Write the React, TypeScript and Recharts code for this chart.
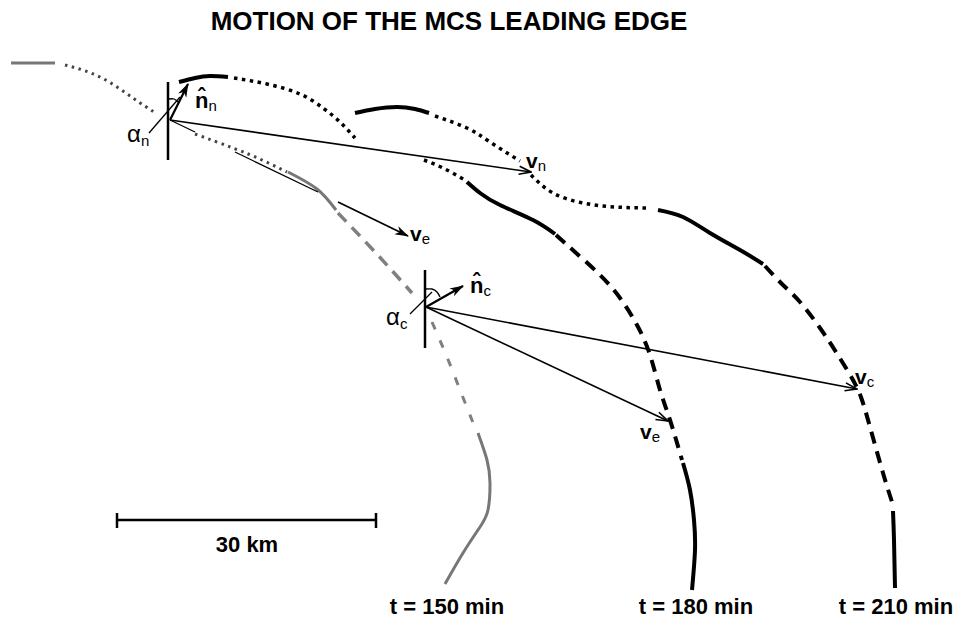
import React from 'react';
import { ComposedChart, Line, Scatter, XAxis, YAxis } from 'recharts';

type P = [number, number];

// ---- t = 150 min front (grey) ----
const f150SolidA: P[] = [[11, 63], [55, 63]];
const f150DotA: P[] = [[65, 65], [100, 77], [133, 98], [154, 112]];
const f150DotB: P[] = [[195, 134], [233, 148], [262, 160], [287, 172]];
const f150SolidB: P[] = [[288, 172], [317, 189], [336, 210]];
const f150DashA: P[] = [[338, 213], [375, 252], [412, 293]];
const f150DashB: P[] = [[432, 322], [447, 357], [462, 395], [476, 430]];
const f150SolidC: P[] = [[478, 433], [487, 460], [490, 483], [488, 510], [480, 527], [463, 553], [445, 584]];

// ---- t = 180 min front ----
const f180SolidA: P[] = [[179, 82], [195, 78], [210, 76], [228, 77]];
const f180DotA: P[] = [[234, 78], [267, 84], [300, 94], [323, 108], [340, 122], [355, 138]];
const f180DotB: P[] = [[424, 160], [443, 168], [465, 180]];
const f180SolidB: P[] = [[467, 182], [480, 193], [500, 205], [533, 220], [555, 234]];
const f180Dash: P[] = [[556, 235], [575, 252], [600, 275], [620, 298], [637, 325], [650, 355], [660, 390], [670, 420], [682, 460]];
const f180SolidC: P[] = [[683, 463], [690, 490], [694, 520], [695, 550], [692, 590]];

// ---- t = 210 min front ----
const f210SolidA: P[] = [[355, 113], [375, 109], [397, 107], [415, 109], [429, 113]];
const f210DotA: P[] = [[435, 116], [467, 128], [490, 142], [520, 161]];
const f210DotB: P[] = [[531, 175], [553, 193], [583, 203], [615, 207], [648, 208]];
const f210SolidB: P[] = [[658, 210], [683, 217], [710, 233], [740, 250], [763, 264]];
const f210Dash: P[] = [[765, 266], [783, 285], [800, 302], [820, 328], [836, 352], [853, 380], [862, 400], [870, 427], [883, 473], [893, 505]];
const f210SolidC: P[] = [[893, 511], [894, 540], [895, 588]];

// ---- vectors / construction lines ----
const northPivot: P[] = [[168, 82], [168, 160]];
const centrePivot: P[] = [[425, 270], [425, 348]];
const nHatN: P[] = [[170, 120], [188, 84]];
const vN: P[] = [[170, 120], [531, 172]];
const vEnA: P[] = [[170, 120], [195, 132]];
const vEnB: P[] = [[235, 152], [318, 192]];
const vEnC: P[] = [[338, 202], [408, 236]];
const nHatC: P[] = [[426, 307], [463, 286]];
const vC: P[] = [[426, 307], [857, 389]];
const vEc: P[] = [[426, 307], [668, 421]];
const alphaNPointer: P[] = [[149, 133], [180, 97]];
const alphaCPointer: P[] = [[410, 314], [432, 292]];
const alphaNArc: P[] = [[169, 99], [174, 99], [178, 102]];
const alphaCArc: P[] = [[426, 289], [432, 289], [437, 292], [440, 297]];
const scaleBar: P[] = [[117, 520], [376, 520]];
const scaleTickL: P[] = [[117, 513], [117, 528]];
const scaleTickR: P[] = [[376, 513], [376, 528]];

// ---- text ----
const titleText = 'MOTION OF THE MCS LEADING EDGE';
const timeLabels = ['t = 150 min', 't = 180 min', 't = 210 min'];
const scaleLabel = '30 km';

type Lbl = { x: number; y: number; kind: string; main: string; sub?: string };
const labels: Lbl[] = [
  { x: 449, y: 30, kind: 'title', main: titleText },
  { x: 447, y: 614, kind: 'time', main: timeLabels[0] },
  { x: 696, y: 614, kind: 'time', main: timeLabels[1] },
  { x: 896, y: 614, kind: 'time', main: timeLabels[2] },
  { x: 247, y: 552, kind: 'time', main: scaleLabel },
  { x: 526, y: 168, kind: 'vec', main: 'v', sub: 'n' },
  { x: 410, y: 241, kind: 'vec', main: 'v', sub: 'e' },
  { x: 855, y: 384, kind: 'vec', main: 'v', sub: 'c' },
  { x: 640, y: 439, kind: 'vec', main: 'v', sub: 'e' },
  { x: 195, y: 108, kind: 'hat', main: 'n\u0302', sub: 'n' },
  { x: 470, y: 293, kind: 'hat', main: 'n\u0302', sub: 'c' },
  { x: 127, y: 142, kind: 'alpha', main: '\u03b1', sub: 'n' },
  { x: 386, y: 325, kind: 'alpha', main: '\u03b1', sub: 'c' },
];

const FONT = '"Liberation Sans", Arial, Helvetica, sans-serif';

const styles: Record<string, any> = {
  thickSolid: { stroke: '#000', strokeWidth: 4 },
  thickDot: { stroke: '#000', strokeWidth: 3.5, strokeDasharray: '3.5 4.5' },
  thickDash: { stroke: '#000', strokeWidth: 4, strokeDasharray: '12 8' },
  greySolid: { stroke: '#777', strokeWidth: 3 },
  greyDot: { stroke: '#444', strokeWidth: 3, strokeDasharray: '2.5 4.5' },
  greyDash: { stroke: '#808080', strokeWidth: 3.5, strokeDasharray: '12 8' },
  greyDashSparse: { stroke: '#808080', strokeWidth: 3, strokeDasharray: '8 12' },
  pivot: { stroke: '#000', strokeWidth: 2.5 },
  thin: { stroke: '#000', strokeWidth: 1.3 },
  arrowOpen: { stroke: '#000', strokeWidth: 1.6, markerEnd: 'url(#openHead)' },
  arrowFilled: { stroke: '#000', strokeWidth: 1.8, markerEnd: 'url(#filledHead)' },
  arrowNormal: { stroke: '#000', strokeWidth: 2.2, markerEnd: 'url(#filledHead)' },
};

const segments: { pts: P[]; style: string; curve: 'natural' | 'linear' }[] = [
  { pts: f150SolidA, style: 'greySolid', curve: 'linear' },
  { pts: f150DotA, style: 'greyDot', curve: 'natural' },
  { pts: f150DotB, style: 'greyDot', curve: 'natural' },
  { pts: f150SolidB, style: 'greySolid', curve: 'natural' },
  { pts: f150DashA, style: 'greyDash', curve: 'natural' },
  { pts: f150DashB, style: 'greyDashSparse', curve: 'natural' },
  { pts: f150SolidC, style: 'greySolid', curve: 'natural' },
  { pts: f180SolidA, style: 'thickSolid', curve: 'natural' },
  { pts: f180DotA, style: 'thickDot', curve: 'natural' },
  { pts: f180DotB, style: 'thickDot', curve: 'natural' },
  { pts: f180SolidB, style: 'thickSolid', curve: 'natural' },
  { pts: f180Dash, style: 'thickDash', curve: 'natural' },
  { pts: f180SolidC, style: 'thickSolid', curve: 'natural' },
  { pts: f210SolidA, style: 'thickSolid', curve: 'natural' },
  { pts: f210DotA, style: 'thickDot', curve: 'natural' },
  { pts: f210DotB, style: 'thickDot', curve: 'natural' },
  { pts: f210SolidB, style: 'thickSolid', curve: 'natural' },
  { pts: f210Dash, style: 'thickDash', curve: 'natural' },
  { pts: f210SolidC, style: 'thickSolid', curve: 'natural' },
  { pts: northPivot, style: 'pivot', curve: 'linear' },
  { pts: centrePivot, style: 'pivot', curve: 'linear' },
  { pts: nHatN, style: 'arrowNormal', curve: 'linear' },
  { pts: nHatC, style: 'arrowNormal', curve: 'linear' },
  { pts: vN, style: 'arrowOpen', curve: 'linear' },
  { pts: vEnA, style: 'thin', curve: 'linear' },
  { pts: vEnB, style: 'thin', curve: 'linear' },
  { pts: vEnC, style: 'arrowFilled', curve: 'linear' },
  { pts: vC, style: 'arrowOpen', curve: 'linear' },
  { pts: vEc, style: 'arrowOpen', curve: 'linear' },
  { pts: alphaNPointer, style: 'thin', curve: 'linear' },
  { pts: alphaCPointer, style: 'thin', curve: 'linear' },
  { pts: alphaNArc, style: 'thin', curve: 'natural' },
  { pts: alphaCArc, style: 'thin', curve: 'natural' },
  { pts: scaleBar, style: 'pivot', curve: 'linear' },
  { pts: scaleTickL, style: 'pivot', curve: 'linear' },
  { pts: scaleTickR, style: 'pivot', curve: 'linear' },
];

const toPts = (a: P[]) => a.map(([x, y]) => ({ x, y }));

function LabelShape(props: any) {
  const { cx, cy, payload } = props;
  const d: Lbl = payload;
  if (d.kind === 'title') {
    return (
      <text x={cx} y={cy} textAnchor="middle" fontFamily={FONT} fontWeight="bold" fontSize={26} fill="#000">
        {d.main}
      </text>
    );
  }
  if (d.kind === 'time') {
    return (
      <text x={cx} y={cy} textAnchor="middle" fontFamily={FONT} fontWeight="bold" fontSize={22} fill="#000">
        {d.main}
      </text>
    );
  }
  if (d.kind === 'vec') {
    return (
      <text x={cx} y={cy} fontFamily={FONT} fill="#000">
        <tspan fontWeight="bold" fontSize={21}>{d.main}</tspan>
        <tspan fontSize={15} dy={3}>{d.sub}</tspan>
      </text>
    );
  }
  if (d.kind === 'hat') {
    return (
      <text x={cx} y={cy} fontFamily={FONT} fill="#000">
        <tspan fontWeight="bold" fontSize={22}>{d.main}</tspan>
        <tspan fontSize={15} dy={3}>{d.sub}</tspan>
      </text>
    );
  }
  return (
    <text x={cx} y={cy} fontFamily={FONT} fill="#000">
      <tspan fontSize={24}>{d.main}</tspan>
      <tspan fontSize={15} dy={4}>{d.sub}</tspan>
    </text>
  );
}

export default function App() {
  return (
    <div style={{ position: 'absolute', left: 0, top: 0, width: 957, height: 628, background: '#fff' }}>
      <svg width={0} height={0} style={{ position: 'absolute' }}>
        <defs>
          <marker id="openHead" viewBox="0 0 14 10" refX="13" refY="5" markerWidth="14" markerHeight="10" markerUnits="userSpaceOnUse" orient="auto">
            <path d="M1,1 L13,5 L1,9" fill="none" stroke="#000" strokeWidth={1.6} />
          </marker>
          <marker id="filledHead" viewBox="0 0 14 10" refX="13" refY="5" markerWidth="14" markerHeight="10" markerUnits="userSpaceOnUse" orient="auto">
            <path d="M0,0.5 L14,5 L0,9.5 L4,5 z" fill="#000" />
          </marker>
        </defs>
      </svg>
      <ComposedChart width={957} height={628} margin={{ top: 0, right: 0, bottom: 0, left: 0 }}>
        <XAxis type="number" dataKey="x" domain={[0, 957]} hide allowDataOverflow />
        <YAxis type="number" dataKey="y" domain={[0, 628]} reversed hide allowDataOverflow />
        {segments.map((s, i) => (
          <Line
            key={i}
            data={toPts(s.pts)}
            dataKey="y"
            type={s.curve}
            dot={false}
            activeDot={false}
            isAnimationActive={false}
            fill="none"
            {...styles[s.style]}
          />
        ))}
        <Scatter data={labels} dataKey="y" isAnimationActive={false} shape={LabelShape} />
      </ComposedChart>
    </div>
  );
}
